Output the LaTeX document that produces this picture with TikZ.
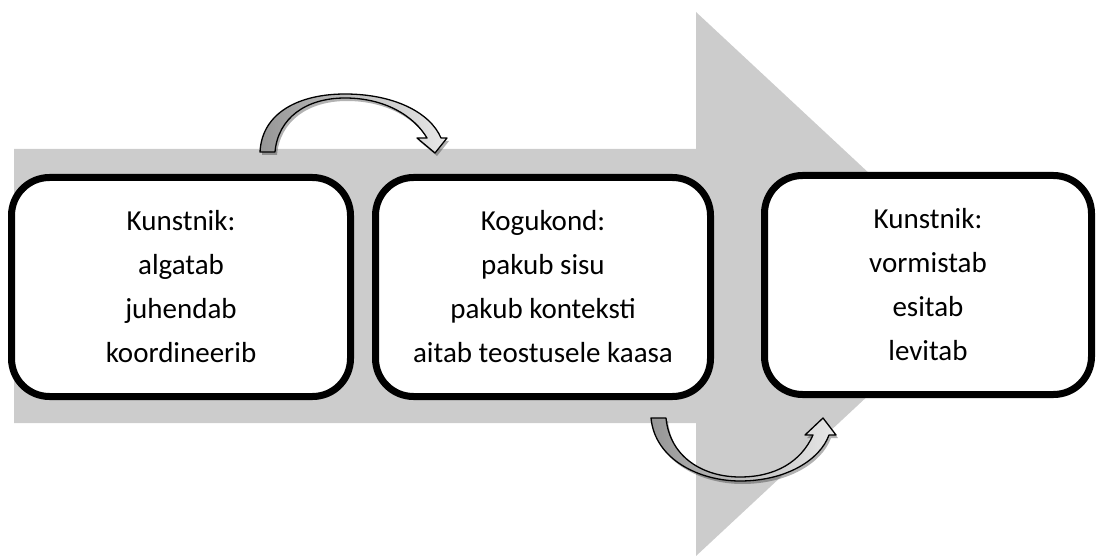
\documentclass[tikz,border=0pt]{standalone}
\usepackage{fontspec}
\setmainfont{Carlito}
\usetikzlibrary{shadows}
\definecolor{bigarrow}{RGB}{204,204,204}
\definecolor{arrdark}{RGB}{150,150,150}
\definecolor{arrlight}{RGB}{232,232,232}
\tikzset{
  stagebox/.style={draw=black, line width=7pt, fill=white, rounded corners=38pt,
    minimum height=219pt, align=center, inner sep=0pt,
    font=\fontsize{29}{44}\selectfont,
    drop shadow={shadow xshift=2pt, shadow yshift=-3pt, opacity=0.35, fill=black}},
  curvearrow/.style={draw=black, line width=1.3pt, line join=round,
    left color=arrdark, right color=arrlight,
    drop shadow={shadow xshift=2pt, shadow yshift=-3pt, opacity=0.3, fill=black}}
}
\begin{document}
\begin{tikzpicture}[x=1pt, y=-1pt]
\useasboundingbox (0,0) rectangle (1098,556);
% big background arrow
\fill[bigarrow] (14,149) -- (696,149) -- (696,12) -- (988,284) -- (696,556)
  -- (696,423) -- (14,423) -- cycle;
% boxes
\node[stagebox, minimum width=339pt] (b1) at (181,287)
  {Kunstnik:\\algatab\\juhendab\\koordineerib};
\node[stagebox, minimum width=335pt] (b2) at (543,287)
  {Kogukond:\\pakub sisu\\pakub konteksti\\aitab teostusele kaasa};
\node[stagebox, minimum width=327pt] (b3) at (928,285)
  {Kunstnik:\\vormistab\\esitab\\levitab};
% top curved arrow (b1 -> b2)
\path[curvearrow] (260,152) .. controls (262,112) and (300,94) .. (345,94)
  .. controls (393,94) and (430,112) .. (441,138)
  -- (447,138) -- (435,153) -- (417,138) -- (427,138)
  .. controls (414,116) and (385,98) .. (345,98)
  .. controls (306,98) and (278,118) .. (275,152) -- cycle;
% bottom curved arrow (b2 -> b3)
\path[curvearrow] (651,418) .. controls (655,460) and (700,481) .. (740,481)
  .. controls (786,481) and (820,460) .. (829,435)
  -- (836,435) -- (823,418) -- (805,435) -- (813,435)
  .. controls (801,462) and (775,477) .. (740,477)
  .. controls (704,477) and (670,458) .. (666,418) -- cycle;
\end{tikzpicture}
\end{document}
